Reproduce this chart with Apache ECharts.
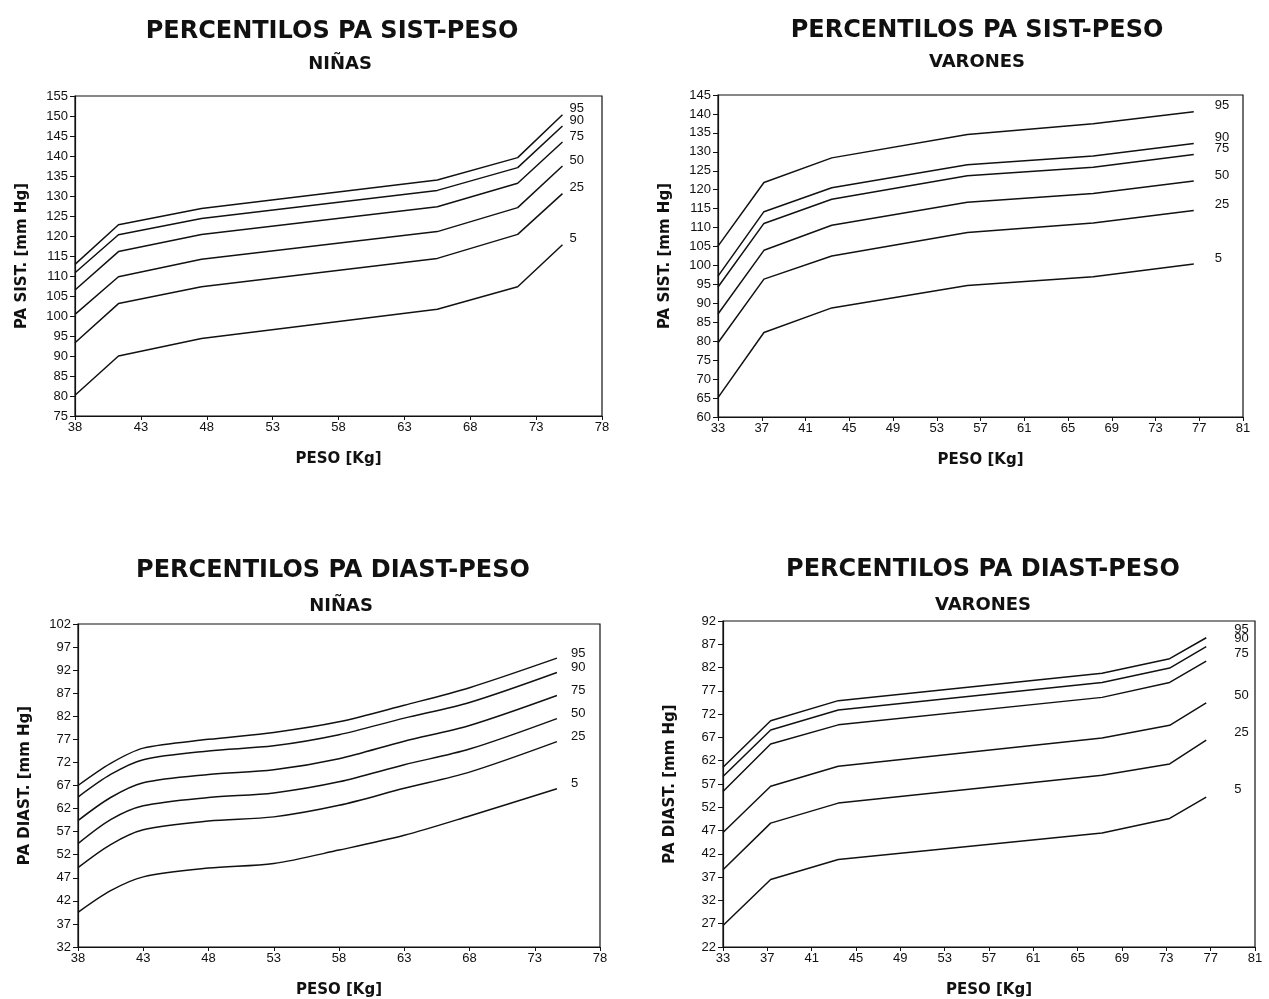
<!DOCTYPE html>
<html><head><meta charset="utf-8">
<script src="https://cdn.jsdelivr.net/npm/echarts@6/dist/echarts.min.js"></script>
<style>html,body{margin:0;padding:0;background:#fff}#c{width:1269px;height:999px}</style>
</head><body><div id="c"></div>
<script>
// Percentile labels (same order in every chart)
const pctLabels = ['95', '90', '75', '50', '25', '5'];

// Chart 1: PA sistólica - peso, NIÑAS
const sistNinasX = [38, 41.3, 47.6, 65.5, 71.6, 75];
const sistNinasP95 = [112.9, 122.8, 126.9, 134.0, 139.6, 150.3];
const sistNinasP90 = [110.8, 120.3, 124.4, 131.4, 137.1, 147.5];
const sistNinasP75 = [106.5, 116.1, 120.4, 127.3, 133.2, 143.5];
const sistNinasP50 = [100.4, 109.8, 114.2, 121.1, 127.1, 137.5];
const sistNinasP25 = [93.3, 103.1, 107.3, 114.4, 120.4, 130.6];
const sistNinasP5  = [80.2, 90.0, 94.4, 101.7, 107.3, 117.8];

// Chart 2: PA sistólica - peso, VARONES
const sistVaronesX = [33, 37.2, 43.4, 55.8, 67.3, 76.5];
const sistVaronesP95 = [105.1, 121.9, 128.4, 134.6, 137.4, 140.6];
const sistVaronesP90 = [97.2, 114.2, 120.5, 126.6, 128.9, 132.2];
const sistVaronesP75 = [94.3, 111.1, 117.5, 123.7, 125.9, 129.3];
const sistVaronesP50 = [87.2, 104.0, 110.6, 116.7, 119.0, 122.3];
const sistVaronesP25 = [79.6, 96.4, 102.5, 108.7, 111.2, 114.5];
const sistVaronesP5  = [65.1, 82.3, 88.8, 94.7, 97.0, 100.4];

// Chart 3: PA diastólica - peso, NIÑAS (smooth curves)
const diastNinasX = [38, 40.5, 43, 48, 53, 58, 63, 68, 74.7];
const diastNinasP95 = [67.0, 71.8, 75.1, 77.0, 78.5, 80.8, 84.4, 88.2, 94.6];
const diastNinasP90 = [64.5, 69.4, 72.6, 74.5, 75.6, 78.0, 81.6, 85.0, 91.5];
const diastNinasP75 = [59.4, 64.4, 67.6, 69.4, 70.4, 72.8, 76.6, 80.0, 86.5];
const diastNinasP50 = [54.4, 59.6, 62.6, 64.4, 65.4, 67.8, 71.5, 74.9, 81.5];
const diastNinasP25 = [49.2, 54.2, 57.4, 59.3, 60.2, 62.7, 66.4, 69.9, 76.5];
const diastNinasP5  = [39.5, 44.2, 47.2, 49.1, 50.1, 53.0, 56.2, 60.4, 66.3];

// Chart 4: PA diastólica - peso, VARONES
const diastVaronesX = [33, 37.3, 43.4, 67.2, 73.3, 76.6];
const diastVaronesP95 = [60.6, 70.6, 74.9, 80.8, 83.9, 88.4];
const diastVaronesP90 = [58.6, 68.6, 72.9, 78.8, 81.9, 86.5];
const diastVaronesP75 = [55.4, 65.6, 69.7, 75.6, 78.8, 83.4];
const diastVaronesP50 = [46.6, 56.5, 60.8, 66.9, 69.6, 74.4];
const diastVaronesP25 = [38.6, 48.6, 52.9, 58.9, 61.3, 66.4];
const diastVaronesP5  = [26.6, 36.5, 40.8, 46.5, 49.6, 54.2];

const titles = ['PERCENTILOS PA SIST-PESO', 'PERCENTILOS PA SIST-PESO', 'PERCENTILOS PA DIAST-PESO', 'PERCENTILOS PA DIAST-PESO'];
const subtitles = ['NIÑAS', 'VARONES', 'NIÑAS', 'VARONES'];
const yNames = ['PA SIST. [mm Hg]', 'PA SIST. [mm Hg]', 'PA DIAST. [mm Hg]', 'PA DIAST. [mm Hg]'];
const xName = 'PESO [Kg]';

const charts = [
  {x: sistNinasX, ys: [sistNinasP95, sistNinasP90, sistNinasP75, sistNinasP50, sistNinasP25, sistNinasP5], xMin: 38, xMax: 78, xInt: 5, yMin: 75, yMax: 155, yInt: 5, smooth: false},
  {x: sistVaronesX, ys: [sistVaronesP95, sistVaronesP90, sistVaronesP75, sistVaronesP50, sistVaronesP25, sistVaronesP5], xMin: 33, xMax: 81, xInt: 4, yMin: 60, yMax: 145, yInt: 5, smooth: false},
  {x: diastNinasX, ys: [diastNinasP95, diastNinasP90, diastNinasP75, diastNinasP50, diastNinasP25, diastNinasP5], xMin: 38, xMax: 78, xInt: 5, yMin: 32, yMax: 102, yInt: 5, smooth: true},
  {x: diastVaronesX, ys: [diastVaronesP95, diastVaronesP90, diastVaronesP75, diastVaronesP50, diastVaronesP25, diastVaronesP5], xMin: 33, xMax: 81, xInt: 4, yMin: 22, yMax: 92, yInt: 5, smooth: false}
];

// layout
const grids = [
  {left: 75, top: 96, width: 527, height: 320},
  {left: 718, top: 95, width: 525, height: 322},
  {left: 78, top: 624, width: 522, height: 327},
  {left: 723, top: 621, width: 532, height: 327}
];
const titlePos = [
  {cx: 327, ty: 15, sy: 50},
  {cx: 972, ty: 14, sy: 48},
  {cx: 328, ty: 554, sy: 592},
  {cx: 978, ty: 553, sy: 591}
];
const labelOffsets = [[7, -6], [21, -6], [14, -5], [28, -8]];

const tickFont = '"Liberation Sans Narrow", "Liberation Sans", Arial, sans-serif';
const titleFont = '"DejaVu Sans", "Open Sans", sans-serif';

const option = {
  backgroundColor: '#fff',
  animation: false,
  title: [],
  grid: [],
  xAxis: [],
  yAxis: [],
  series: []
};

charts.forEach((c, i) => {
  const g = grids[i];
  option.grid.push(Object.assign({show: true, borderColor: '#111', borderWidth: 1.2, backgroundColor: 'transparent'}, g));
  option.title.push({text: titles[i], left: titlePos[i].cx, top: titlePos[i].ty, textAlign: 'center',
    textStyle: {fontFamily: titleFont, fontWeight: 'bold', fontSize: 24, color: '#111'}});
  option.title.push({text: subtitles[i], left: titlePos[i].cx + (i % 2 === 0 ? 8 : 0), top: titlePos[i].sy, textAlign: 'center',
    textStyle: {fontFamily: titleFont, fontWeight: 'bold', fontSize: 18, color: '#111'}});
  option.xAxis.push({
    type: 'value', gridIndex: i, min: c.xMin, max: c.xMax, interval: c.xInt,
    name: xName, nameLocation: 'middle', nameGap: 36,
    nameTextStyle: {fontFamily: titleFont, fontWeight: 'bold', fontSize: 15, color: '#111'},
    axisLine: {show: true, lineStyle: {color: '#111', width: 1.2}},
    axisTick: {show: true, inside: false, length: 4, lineStyle: {color: '#111'}},
    axisLabel: {fontFamily: tickFont, fontSize: 13, color: '#111', margin: 5},
    splitLine: {show: false}
  });
  option.yAxis.push({
    type: 'value', gridIndex: i, min: c.yMin, max: c.yMax, interval: c.yInt,
    name: yNames[i], nameLocation: 'middle', nameGap: 45,
    nameTextStyle: {fontFamily: titleFont, fontWeight: 'bold', fontSize: 15, color: '#111'},
    axisLine: {show: true, lineStyle: {color: '#111', width: 1.2}},
    axisTick: {show: true, inside: false, length: 5, lineStyle: {color: '#111'}},
    axisLabel: {fontFamily: tickFont, fontSize: 13, color: '#111', margin: 7},
    splitLine: {show: false}
  });
  c.ys.forEach((ys, k) => {
    option.series.push({
      type: 'line', xAxisIndex: i, yAxisIndex: i, smooth: c.smooth ? 0.3 : false,
      symbol: 'none', silent: true,
      data: c.x.map((xv, j) => [xv, ys[j]]),
      lineStyle: {color: '#111', width: 1.5},
      endLabel: {show: true, formatter: pctLabels[k], offset: labelOffsets[i], distance: 0,
        fontFamily: tickFont, fontSize: 13, color: '#111'}
    });
  });
});

const chart = echarts.init(document.getElementById('c'), null, {renderer: 'canvas'});
chart.setOption(option);
</script>
</body></html>
